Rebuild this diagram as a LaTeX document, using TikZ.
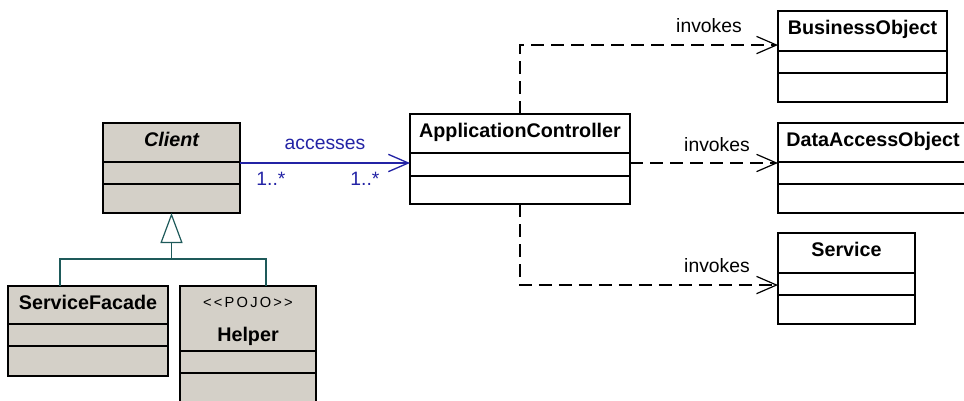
\documentclass[tikz,border=0pt]{standalone}
\usepackage{fontspec}
\setmainfont{Liberation Sans}
\newfontfamily\stereofont[LetterSpace=15]{Liberation Sans}
\usetikzlibrary{positioning,fit,arrows.meta}

\definecolor{umlgray}{RGB}{212,208,200}
\definecolor{genteal}{RGB}{30,90,90}
\definecolor{assocblue}{RGB}{35,35,165}

\tikzset{
  clsbox/.style={draw=black, line width=0.9pt, inner sep=0pt, outer sep=0pt},
  clsname/.style={inner sep=0pt, font=\fontsize{14.8}{17}\selectfont\bfseries},
  clsnameit/.style={clsname, font=\fontsize{14.8}{17}\selectfont\bfseries\itshape},
  stereo/.style={inner sep=0pt, font=\fontsize{11}{13}\stereofont},
  lbl/.style={inner sep=0pt, font=\fontsize{14.5}{16}\selectfont},
  assoc/.style={draw=assocblue, line width=1pt, -{Straight Barb[length=15pt,width=13pt]}},
  dep/.style={draw=black, line width=0.9pt, dash pattern=on 9.5pt off 5.5pt, -{Straight Barb[length=15pt,width=13pt]}},
  genline/.style={draw=genteal, line width=0.9pt},
  genarrow/.style={-{Triangle[open,length=22.5pt,width=16.5pt]}}
}

% class box: name, left, top, right, bottom, first divider, second divider, fill
\newcommand{\umlclass}[8]{%
  \node[clsbox, fill=#8, fit={(#2,#3) (#4,#5)}] (#1) {};
  \draw[line width=0.9pt] (#2,#6) -- (#4,#6) (#2,#7) -- (#4,#7);
}

\begin{document}
\begin{tikzpicture}[x=0.75pt,y=0.75pt,yscale=-1,xscale=1]
    \useasboundingbox (0,0) rectangle (964,400);
    \clip (0,0) rectangle (964,400);

    %Shape: Class [Client]
    \umlclass{client}{103}{123}{240}{213}{162}{184}{umlgray}
    \node[clsnameit, below=6.75pt of client.north] (client-name) {Client};
    %Shape: Class [ServiceFacade]
    \umlclass{sf}{8}{286}{168}{376}{324}{346}{umlgray}
    \node[clsname, below=6.75pt of sf.north] (sf-name) {ServiceFacade};
    %Shape: Class [Helper]
    \umlclass{helper}{180}{286}{316}{412}{351}{373}{umlgray}
    \node[stereo, below=8.25pt of helper.north] (helper-st) {<<POJO>>};
    \node[clsname, below=14.25pt of helper-st] (helper-name) {Helper};
    %Shape: Class [ApplicationController]
    \umlclass{ac}{410}{114}{630}{204}{153}{176}{white}
    \node[clsname, below=6.75pt of ac.north] (ac-name) {ApplicationController};
    %Shape: Class [BusinessObject]
    \umlclass{bo}{778}{11}{947}{102}{51}{73}{white}
    \node[clsname, below=6.75pt of bo.north] (bo-name) {BusinessObject};
    %Shape: Class [DataAccessObject]
    \umlclass{dao}{778}{123}{968}{213}{162}{184}{white}
    \node[clsname, below=6.75pt of dao.north] (dao-name) {DataAccessObject};
    %Shape: Class [Service]
    \umlclass{svc}{778}{233}{915}{324}{273}{295}{white}
    \node[clsname, below=6.75pt of svc.north] (svc-name) {Service};

    %Generalization
    \coordinate (gen-joint) at (171.5,259);
    \draw[genline] ([xshift=-21pt]sf.north) |- (gen-joint) -| ([xshift=13.5pt]helper.north);
    \draw[genline, genarrow] (gen-joint) -- (client.south);

    %Association
    \coordinate (acc-from) at ([yshift=-3.75pt]client.east);
    \draw[assoc] (acc-from) -- (acc-from -| ac.west);

    %Dependencies
    \coordinate (bo-in) at ([yshift=-8.6pt]bo.west);
    \draw[dep] (ac.north) |- (bo-in);
    \coordinate (dao-out) at ([yshift=3pt]ac.east);
    \draw[dep] (dao-out) -- (dao-out -| dao.west);
    \coordinate (svc-in) at ([yshift=4.9pt]svc.west);
    \draw[dep] (ac.south) |- (svc-in);

    % Text Node
    \node[lbl, text=assocblue] (acc-lbl) at (325,144) {accesses};
    % Text Node
    \node[lbl, text=assocblue] (acc-m1) at (271,179) {1..*};
    % Text Node
    \node[lbl, text=assocblue] (acc-m2) at (365,179) {1..*};
    % Text Node
    \node[lbl] (inv-bo) at (709,25.5) {invokes};
    % Text Node
    \node[lbl] (inv-dao) at (717,145) {invokes};
    % Text Node
    \node[lbl] (inv-svc) at (717,266) {invokes};

\end{tikzpicture}
\end{document}
